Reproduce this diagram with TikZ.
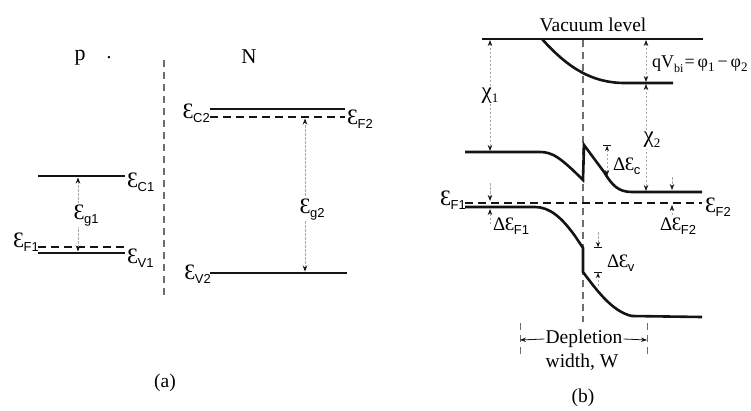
\documentclass[tikz,border=0pt]{standalone}
\usepackage{fontspec}
\usepackage{graphicx}
\setmainfont{Liberation Serif}
\newfontfamily\subfont{Liberation Sans}
\usetikzlibrary{arrows.meta,positioning}
\definecolor{ink}  {HTML}{141414}
\definecolor{guide}{HTML}{6E6E6E}
\definecolor{faint}{HTML}{A8A8A8}
\newcommand{\lev}[1]{Ɛ\kern-0.5pt\raisebox{-4.5pt}{\subfont\fontsize{13}{13}\selectfont #1}}
\newcommand{\dlev}[1]{Δ\kern-0.5pt\lev{#1}}
\newcommand{\lo}[1]{\raisebox{-4.5pt}{\fontsize{13}{13}\selectfont #1}}

\begin{document}
\begin{tikzpicture}[x=1pt,y=-1pt,
    band/.style={draw=ink,line width=2.6pt},
    fermi/.style={draw=ink,line width=1.8pt,dash pattern=on 8pt off 5pt},
    iface/.style={draw=guide,line width=1.1pt,dash pattern=on 7pt off 5pt},
    dim/.style={draw=faint,line width=0.7pt,dash pattern=on 2.5pt off 1.5pt},
    hd/.tip={Stealth[length=6pt,width=4.5pt,color=ink]},
    txt/.style={font=\fontsize{19.5}{22}\selectfont,inner sep=1pt},
    lev/.style={font=\fontsize{22}{22}\selectfont,inner sep=0pt},
    dlev/.style={font=\fontsize{19}{19}\selectfont,inner sep=0pt}]
  \useasboundingbox (0,0) rectangle (751,410);

  % (a) isolated p and N materials
  \node[txt,font=\fontsize{22}{24}\selectfont] (p) at (80,58) {p};
  \node[txt] (pdot) at (109,58) {.};
  \node[txt,font=\fontsize{21}{24}\selectfont] (n) at (249,57) {N};
  \draw[iface] (164,60) -- (164,298);

  \draw[band]  (38,176) -- (125,176);
  \draw[fermi] (38,247) -- (125,247);
  \draw[band]  (38,253) -- (125,253);
  \draw[band]  (210,109) -- (345,109);
  \draw[fermi] (210,117) -- (345,117);
  \draw[band]  (210,273) -- (347,273);

  \node[lev,anchor=base west] (ec1) at (127,187) {\lev{C1}};
  \node[lev,anchor=base east] (ef1) at (39,247) {\lev{F1}};
  \node[lev,anchor=base west] (ev1) at (127,263) {\lev{V1}};
  \node[lev,anchor=base east] (ec2) at (210,118) {\lev{C2}};
  \node[lev,anchor=base west] (ef2) at (347,124) {\lev{F2}};
  \node[lev,anchor=base east] (ev2) at (211,279) {\lev{V2}};

  \coordinate (g1t) at (78,177.5);
  \coordinate (g1b) at (78,251.5);
  \draw[dim,{hd}-{hd}] (g1b) -- (g1t);
  \node[lev,anchor=base,fill=white,inner sep=1pt] (eg1) at (86,219) {\lev{g1}};
  \coordinate (g2t) at (305,118.5);
  \coordinate (g2b) at (305,271.5);
  \draw[dim,{hd}-{hd}] (g2b) -- (g2t);
  \node[lev,anchor=base,fill=white,inner sep=1pt] (eg2) at (312,213) {\lev{g2}};

  \node[txt] (capa) at (165,383) {(a)};

  % (b) heterojunction in equilibrium
  \node[txt] (vac) at (593,25) {Vacuum level};
  \draw[draw=ink,line width=1.8pt] (482,39) -- (703,39);
  \draw[band] (542,39) .. controls (568,68) and (592,83) .. (625,83) -- (673,83);
  \draw[iface] (583,40) -- (583,322);

  \draw[band] (465,152) -- (540,152) .. controls (552,152) and (560,157) .. (583,180)
    -- (584,145) -- (604,172) .. controls (612,185) and (618,192) .. (632,192) -- (702,192);
  \draw[fermi] (465,203) -- (702,203);
  \draw[band] (465,207) -- (535,207) .. controls (550,207) and (562,218) .. (575,236)
    -- (583,248) -- (583,272) .. controls (595,288) and (612,312) .. (632,316) -- (702,317);

  \coordinate (x1t) at (490,40);
  \coordinate (x1b) at (490,151);
  \draw[dim,{hd}-{hd}] (x1t) -- node[txt,fill=white,font=\fontsize{23}{24}\selectfont] (chi1) {χ\lo{1}} (x1b);
  \coordinate (qt) at (646,40);
  \coordinate (qb) at (646,82);
  \draw[dim,{hd}-{hd}] (qt) -- (qb);
  \node[anchor=base west,inner sep=0pt,font=\fontsize{18}{20}\selectfont] (qv) at (652,67)
    {qV\raisebox{-5pt}{\fontsize{12}{12}\selectfont bi}\kern1pt=\,φ\lo{1}\,−\,φ\lo{2}};
  \coordinate (x2t) at (646,84);
  \coordinate (x2b) at (646,191);
  \draw[dim,{hd}-{hd}] (x2t) -- (x2b);
  \node[txt,fill=white,font=\fontsize{23}{24}\selectfont] (chi2) at (652,140) {χ\lo{2}};

  \coordinate (dct) at (607,145);
  \coordinate (dcb) at (607,176);
  \draw[dim,{Bar[width=8pt,line width=1pt,color=ink]Stealth[length=5pt,width=4pt,color=ink]}-{hd}] (dct) -- (dcb);
  \node[dlev,anchor=base west] (dec) at (613,170) {\dlev{c}};

  \coordinate (dva) at (598,232);
  \coordinate (dvb) at (598,248);
  \coordinate (dvc) at (598,286);
  \coordinate (dvd) at (598,272);
  \draw[dim,-{Stealth[length=5pt,width=4pt,color=ink]Bar[width=8pt,line width=1pt,color=ink]}] (dva) -- (dvb);
  \draw[dim,-{Stealth[length=5pt,width=4pt,color=ink]Bar[width=8pt,line width=1pt,color=ink]}] (dvc) -- (dvd);
  \node[dlev,anchor=base west] (dev) at (607,267) {\dlev{v}};

  \coordinate (f1a) at (490,183);
  \coordinate (f1b) at (490,201);
  \coordinate (f1c) at (490,224);
  \coordinate (f1d) at (490,209);
  \draw[dim,-{hd}] (f1a) -- (f1b);
  \draw[dim,-{hd}] (f1c) -- (f1d);
  \node[lev,anchor=base east] (bf1) at (466,205) {\lev{F1}};
  \node[dlev,anchor=base west] (def1) at (493,230) {\dlev{F1}};

  \coordinate (f2a) at (672,177);
  \coordinate (f2b) at (672,190);
  \coordinate (f2c) at (672,215);
  \coordinate (f2d) at (672,205);
  \draw[dim,-{hd}] (f2a) -- (f2b);
  \draw[dim,-{hd}] (f2c) -- (f2d);
  \node[lev,anchor=base west] (bf2) at (705,212) {\lev{F2}};
  \node[dlev,anchor=base west] (def2) at (660,230) {\dlev{F2}};

  \draw[iface,line width=0.8pt] (520,323) -- (520,358);
  \draw[iface,line width=0.8pt] (647,323) -- (647,358);
  \node[txt] (depl) at (584,339) {Depletion};
  \node[txt] (wid) at (582,362) {width, W};
  \coordinate (wl) at (520,340);
  \coordinate (wr) at (647,340);
  \draw[ink,line width=0.8pt,-{hd}] (depl.west) -- (wl);
  \draw[ink,line width=0.8pt,-{hd}] (depl.east) -- (wr);

  \node[txt] (capb) at (583,398) {(b)};
\end{tikzpicture}
\end{document}
